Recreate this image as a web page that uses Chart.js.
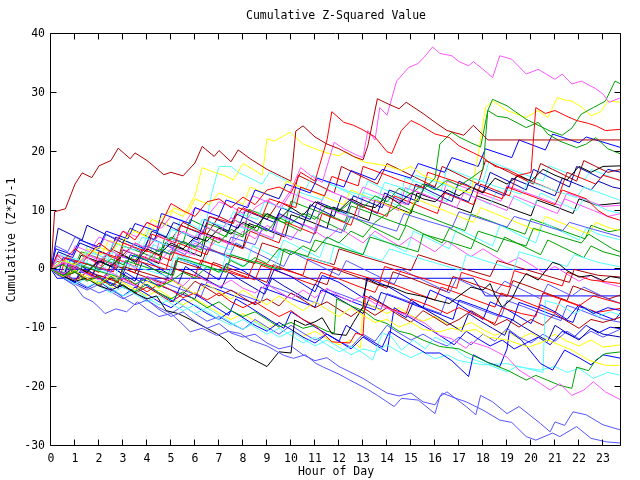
<!DOCTYPE html>
<html>
<head>
<meta charset="utf-8">
<script src="https://cdn.jsdelivr.net/npm/chart.js@4.4.1/dist/chart.umd.min.js"></script>
<style>
  html, body { margin: 0; padding: 0; background: #fff; }
</style>
</head>
<body>
<canvas id="zChart" width="640" height="480"></canvas>
<script>
// hour ticks and value ticks
const hourTicks = [0,1,2,3,4,5,6,7,8,9,10,11,12,13,14,15,16,17,18,19,20,21,22,23];
const valueTicks = [-30,-20,-10,0,10,20,30,40];
const chartTitle = 'Cumulative Z-Squared Value';

// each walk: hour, value, hour, value ...
const walk01 = [0,0, 0.15,9.8, 0.6,10.3, 1.0,14.5, 1.3,16.4, 1.7,15.6, 2.0,17.6, 2.5,18.5, 2.8,20.6, 3.3,18.8, 3.5,19.8, 4.0,18.5, 4.7,16.1, 5.0,16.5, 5.5,15.9, 6.0,18.1, 6.3,20.9, 6.8,19.2, 7.0,20.2, 7.5,18.3, 7.8,20.3, 8.3,18.8, 9.0,17.0, 9.6,15.8, 10.0,15.0, 10.2,23.5, 10.5,24.4, 11.0,22.5, 11.5,21.3, 12.0,20.5, 12.6,19.2, 13.0,18.6, 13.2,21, 13.6,29.0, 14.0,28.2, 14.5,27.3, 14.8,28.4, 15.5,26.5, 16.0,25.0, 16.5,23.6, 17.2,22.8, 17.6,24.5, 18.2,22.0, 23.75,22.0];
const walk02 = [0,0, 0.25,2.5, 0.5,1.5, 1.0,3.5, 1.5,2.0, 2.0,4.5, 2.5,3.0, 3.0,6.5, 3.5,5.0, 4.0,8.0, 4.5,7.0, 5.0,11.2, 5.5,10.0, 6.0,9.0, 6.5,11.5, 7.0,12.0, 7.5,10.5, 8.0,12.3, 8.5,11.0, 9.0,13.5, 9.5,14.0, 10.0,13.0, 10.4,16.5, 11.0,15.0, 11.5,22.0, 11.7,26.8, 12.2,25.0, 12.6,24.5, 13.0,23.7, 13.5,22.5, 14.0,20.0, 14.2,19.7, 14.6,23.6, 15.0,25.3, 15.4,24.5, 16.0,23.0, 16.6,22.4, 17.0,21.0, 17.5,20.0, 18.0,19.0, 18.5,17.5, 19.0,17.0, 19.5,16.0, 20.0,16.5, 20.2,27.5, 20.6,26.5, 21.0,27.0, 21.5,26.0, 21.9,25.3, 22.4,24.8, 22.7,24.4, 23.1,23.6, 23.75,23.8];
const walk03 = [0,0, 0.5,1.2, 1.0,0.5, 1.5,2.5, 2.0,1.5, 2.5,3.2, 3.0,2.0, 3.5,4.5, 4.0,3.5, 4.5,5.8, 5.0,4.5, 5.5,6.5, 6.0,5.5, 6.5,7.2, 7.0,6.2, 7.5,8.8, 8.0,7.5, 8.5,10.5, 9.0,11.8, 9.5,10.5, 10.0,13.5, 10.4,17.3, 10.8,16.0, 11.3,14.8, 11.8,21.6, 12.2,20.5, 12.7,19.5, 13.0,19.0, 13.2,23.6, 13.5,22.0, 13.7,27.5, 14.0,26.2, 14.4,32.0, 14.9,34.3, 15.3,35.0, 15.6,36.3, 15.9,37.8, 16.2,36.7, 16.7,36.3, 17.0,35.3, 17.4,34.6, 17.6,35.3, 18.0,34.0, 18.4,32.6, 18.7,36.3, 19.2,35.7, 19.8,33.2, 20.3,34.0, 21.0,32.3, 21.3,33.2, 21.7,31.5, 22.1,32.0, 22.7,30.7, 23.0,29.8, 23.25,28.4, 23.75,29.2];
const walk04 = [0,0, 0.5,-1.0, 1,-0.5, 1.5,-2.0, 2,-1.2, 2.5,-2.8, 3,-1.0, 3.5,-2.5, 4,-1.5, 4.5,-3.0, 5,-2.0, 5.5,-0.5, 6,-1.5, 6.5,0.5, 7,-0.5, 7.5,1.5, 8,0.5, 8.5,2.0, 9,1.0, 9.5,3.5, 10,2.5, 10.5,4.0, 11,3.0, 11.5,5.5, 12,4.5, 12.5,6.5, 13,5.5, 13.5,8.0, 14,9.5, 14.5,11.0, 15,10.0, 15.5,13.5, 16,15.5, 16.2,21.3, 16.7,23.3, 17.0,22.5, 17.5,21.5, 17.9,20.8, 18.2,27.0, 18.4,28.9, 19.0,27.8, 19.8,25.5, 20.3,24.5, 20.8,23.5, 21.3,22.8, 21.7,24.0, 22.1,26.4, 22.6,27.5, 23.1,28.6, 23.5,32.0, 23.75,31.5];
const walk05 = [0,0, 0.5,0.8, 1,-0.5, 1.5,1.0, 2,0.0, 2.5,1.8, 3,0.8, 3.5,2.5, 4,1.5, 4.5,3.5, 5,2.5, 5.5,4.8, 6,3.8, 6.5,5.5, 7,4.5, 7.5,6.8, 8,5.8, 8.5,7.5, 9,6.5, 9.5,8.8, 10,7.8, 10.5,9.5, 11,8.5, 11.5,10.8, 12,9.8, 12.5,11.5, 13,10.5, 13.5,12.5, 14,11.5, 14.5,13.8, 15,12.8, 15.5,14.5, 16,13.5, 16.5,15.2, 17,14.2, 17.5,15.5, 18.0,17.0, 18.2,27.0, 18.6,26.0, 19.0,25.8, 19.8,24.1, 20.3,25.0, 20.7,23.0, 21.2,21.8, 21.9,20.7, 22.3,21.3, 22.7,22.4, 23.2,20.5, 23.75,19.6];
const walk06 = [0,0, 0.5,1.5, 1,0.8, 1.5,2.5, 2,3.8, 2.5,3.0, 3,5.0, 3.5,6.5, 4,5.5, 4.5,8.5, 5,10.0, 5.5,9.0, 6,12.5, 6.3,17.3, 6.8,16.5, 7.2,16.0, 7.6,15.2, 8.0,18.0, 8.5,16.8, 8.8,16.0, 9.0,22.2, 9.3,21.8, 9.6,22.5, 9.96,23.3, 10.5,21.3, 11,20.5, 11.5,19.8, 12,19.3, 12.3,20.0, 12.8,18.7, 13.1,18.2, 14,17.6, 14.6,16.8, 15,17.5, 15.5,16.0, 16,15.2, 16.5,14.5, 17,13.5, 17.5,13.0, 17.8,19.5, 18.1,27.5, 18.4,28.6, 19.0,27.0, 19.8,25.8, 20.3,27.0, 20.7,25.8, 21.1,29.2, 21.4,28.8, 21.7,28.6, 22.1,27.6, 22.5,26.1, 22.9,26.8, 23.2,28.6, 23.75,28.4];
const walk07 = [0,0, 0.5,-1.2, 1,-0.2, 1.5,-1.5, 2,-2.5, 2.5,-1.0, 3,-2.2, 3.5,-3.5, 4,-2.0, 4.5,-3.2, 5,-1.8, 5.5,-3.0, 6,-4.2, 6.5,-2.5, 7,-3.8, 7.5,-5.0, 8,-3.5, 8.5,-4.8, 9,-6.0, 9.5,-4.5, 10,-5.8, 10.5,-7.0, 11,-5.5, 11.5,-6.8, 12,-8.0, 12.5,-6.5, 13,-7.8, 13.5,-9.0, 14,-8.5, 14.5,-9.8, 15,-9.0, 15.5,-10.2, 16.2,-10.6, 16.7,-10.0, 17.2,-10.5, 17.7,-10.2, 18.2,-11.5, 19,-12.0, 19.9,-13.2, 20.7,-12.0, 21.7,-13.7, 22.4,-15.4, 23.1,-16.3, 23.75,-16.3];
const walk08 = [0,0, 0.5,-0.8, 1,0.5, 1.5,-0.8, 2,-1.8, 2.5,-0.5, 3,-1.6, 3.5,-2.8, 4,-1.2, 4.5,-2.5, 5,-1.5, 5.5,-2.8, 6,-0.8, 6.5,-2.0, 7,-3.0, 7.5,-1.8, 8,-3.2, 8.5,-4.0, 9,-2.5, 9.5,-3.8, 10,-5.0, 10.5,-3.5, 11,-4.8, 11.5,-3.2, 12,-4.5, 12.5,-5.5, 13,-4.5, 13.5,-5.8, 14.25,-7.0, 15,-8.0, 15.6,-9.2, 16.2,-11.2, 16.7,-11.8, 17.3,-13.4, 17.5,-12.3, 18.2,-13.2, 19,-14.9, 19.5,-17.1, 20.4,-19.4, 20.8,-20.5, 21.2,-19.4, 21.7,-21.4, 22.2,-20.5, 22.6,-19.1, 23.1,-20.8, 23.75,-22.2];
const walk09 = [0,0, 0.5,-1.5, 1.0,-2.8, 1.35,-4.7, 1.75,-5.5, 2.04,-6.6, 2.25,-7.5, 2.7,-6.7, 3.15,-7.2, 3.6,-5.5, 4.0,-6.8, 4.5,-8.0, 5.0,-7.5, 5.4,-9.0, 5.8,-10.6, 6.3,-10.0, 6.9,-11.2, 7.4,-10.5, 7.9,-10.9, 8.3,-12.0, 9.0,-13.0, 9.7,-14.6, 10.1,-15.1, 10.6,-14.5, 11.05,-16.0, 11.35,-16.6, 12.0,-17.8, 12.45,-18.8, 13.2,-20.4, 13.6,-21.4, 14.3,-23.3, 14.6,-21.9, 15.3,-22.2, 16.0,-24.5, 16.2,-21.6, 16.5,-20.8, 17.3,-23.3, 17.7,-24.7, 17.9,-21.4, 18.4,-22.5, 19.0,-24.5, 19.5,-23.3, 20.4,-26.2, 20.8,-27.6, 21.0,-25.9, 21.4,-26.5, 21.75,-24.2, 22.3,-24.7, 23.0,-26.4, 23.75,-27.3];
const walk10 = [0,0, 0.5,-0.5, 1.0,-1.8, 1.5,-3.0, 2.0,-4.0, 2.5,-3.2, 3.0,-4.8, 3.5,-6.0, 4.0,-5.2, 4.5,-6.8, 5.0,-8.0, 5.5,-7.2, 6.0,-8.8, 6.5,-10.0, 7.0,-9.2, 7.5,-10.8, 8.0,-11.5, 8.5,-11.0, 9.0,-12.5, 9.5,-13.5, 10.0,-13.0, 10.5,-14.5, 11.0,-15.5, 11.5,-15.0, 12.0,-16.5, 12.5,-17.5, 13.0,-18.5, 13.5,-19.8, 14.0,-21.0, 14.5,-21.5, 15.0,-21.0, 15.5,-22.5, 16.0,-23.0, 16.3,-21.0, 16.8,-21.8, 17.3,-22.5, 18.0,-23.9, 18.7,-25.6, 19.2,-26.0, 19.8,-28.4, 20.2,-29.0, 20.9,-27.8, 21.2,-28.4, 21.9,-26.7, 22.5,-28.7, 23.15,-29.3, 23.75,-29.5];
const walk11 = [0,0, 0.5,-1.2, 1,-2.0, 1.5,-1.5, 2,-2.8, 2.5,-3.5, 3,-2.6, 3.5,-4.0, 4.0,-5.0, 4.4,-4.5, 4.8,-7.0, 5.3,-7.5, 5.8,-8.5, 6.4,-9.8, 6.9,-10.9, 7.3,-12.0, 7.7,-13.7, 8.3,-15.0, 9.0,-16.5, 9.5,-14.0, 10.0,-14.2, 10.15,-8.6, 10.6,-9.5, 11.0,-8.9, 11.3,-8.2, 11.7,-10.9, 12.3,-11.2, 12.6,-9.0, 13.0,-6.4, 13.15,-1.5, 13.6,-2.5, 14.2,-3.0, 14.8,-4.0, 15.4,-4.5, 16.0,-5.2, 16.6,-5.8, 17.0,-4.5, 17.5,-3.0, 18.0,-3.5, 18.3,-2.4, 18.5,-4.4, 18.8,-6.4, 19.2,-5.0, 19.5,-2.5, 19.8,-0.7, 20.3,-1.8, 20.9,1.2, 21.2,0.8, 21.5,-0.2, 22.0,-1.3, 22.5,-1.0, 23.0,-1.9, 23.3,-1.2, 23.75,-1.5];
const walk12 = [0,0, 0.5,-1.0, 1,0.5, 1.5,-0.5, 2,1.5, 2.5,0.5, 3,2.5, 3.5,1.2, 4,3.5, 4.5,2.5, 5,4.5, 5.5,3.5, 6,5.5, 6.5,4.8, 7,7.0, 7.5,6.0, 8,8.0, 8.5,7.0, 9,9.5, 9.5,8.5, 10,10.5, 10.5,9.2, 11,11.5, 11.5,10.5, 12,10.0, 12.5,12.0, 13,11.0, 13.5,10.5, 14,12.5, 14.5,11.2, 15,13.0, 15.5,12.0, 16,11.5, 16.5,13.5, 17,12.5, 17.5,14.0, 18,13.0, 18.5,15.5, 19,14.5, 19.5,16.0, 20,15.0, 20.5,17.0, 21,16.0, 21.5,15.2, 22,17.5, 22.5,16.5, 23,17.5, 23.75,17.6];
const walk13 = [0,0, 0.2,3.5, 0.9,2.5, 1.2,5.0, 2.0,3.8, 2.3,6.5, 3.2,5.2, 3.5,7.8, 4.4,6.5, 4.6,9.5, 5.5,8.2, 5.8,7.8, 6.0,10.5, 7.0,9.0, 7.3,11.8, 8.2,10.5, 8.5,13.5, 9.5,12.0, 9.8,14.5, 10.8,13.0, 11.1,15.5, 12.2,14.0, 12.5,16.8, 13.5,15.2, 13.8,17.0, 15.0,15.5, 15.3,18.0, 16.4,16.5, 16.7,19.0, 17.8,17.5, 18.1,20.5, 19.2,19.0, 19.5,22.0, 20.6,20.3, 20.9,23.0, 22.0,21.5, 22.3,22.5, 23.75,20.7];
const walk14 = [0,0, 0.8,-1.0, 1.0,1.5, 1.8,0.5, 2.0,3.0, 2.8,2.0, 3.0,4.5, 4.0,3.0, 4.2,6.0, 5.2,4.5, 5.4,7.5, 6.4,6.0, 6.6,9.0, 7.6,7.8, 7.8,10.5, 8.8,9.0, 9.1,12.0, 10.2,10.5, 10.4,14.0, 11.4,12.5, 11.7,15.8, 12.8,14.2, 13.0,17.5, 14.0,16.0, 14.5,15.2, 15.5,13.8, 15.7,16.5, 16.8,15.0, 17.8,13.5, 18.8,12.0, 19.0,14.0, 20.0,12.5, 21.0,11.0, 21.3,13.5, 22.3,12.0, 22.8,10.0, 23.2,9.0, 23.75,8.3];
const walk15 = [0,0, 0.5,1.5, 1.2,0.5, 1.5,3.0, 2.3,2.0, 2.6,4.5, 3.5,3.2, 3.8,5.5, 4.8,4.2, 5.0,6.8, 6.0,5.5, 6.3,8.5, 7.3,7.2, 7.6,9.8, 8.6,8.5, 8.9,11.5, 10.0,10.0, 10.3,13.2, 11.3,11.8, 11.6,14.5, 12.6,13.0, 13.6,11.8, 13.9,14.8, 14.9,13.5, 15.2,16.0, 16.3,14.5, 17.3,13.2, 17.6,15.5, 18.6,14.0, 19.6,12.8, 19.9,15.0, 20.9,13.5, 21.9,12.2, 22.2,14.0, 23.2,12.5, 23.75,11.7];
const walk16 = [0,0, 0.6,-1.0, 0.8,1.8, 1.6,0.8, 2.5,-0.5, 2.7,2.5, 3.6,1.3, 3.9,4.0, 5.0,2.5, 5.2,5.0, 6.2,3.8, 7.2,2.5, 7.5,5.5, 8.5,4.2, 8.8,7.0, 9.8,5.8, 10.8,4.5, 11.1,7.5, 12.1,6.2, 12.4,9.0, 13.4,7.8, 14.4,6.5, 14.7,9.5, 15.7,8.2, 16.7,7.0, 17.0,9.8, 18.0,8.5, 19.0,7.2, 19.3,9.0, 20.3,7.8, 21.3,6.5, 21.6,8.0, 22.6,6.8, 23.75,5.5];
const walk17 = [0,0, 0.7,-1.0, 0.9,1.0, 1.9,-0.2, 2.9,-1.4, 3.1,1.5, 4.1,0.2, 5.1,-1.0, 5.3,2.0, 6.3,0.8, 7.3,-0.5, 7.5,2.5, 8.5,1.2, 9.5,0.0, 9.7,3.5, 10.7,2.2, 11.0,5.0, 12.0,3.8, 13.0,2.5, 13.3,5.5, 14.3,4.2, 15.3,3.0, 15.5,6.0, 16.5,4.8, 17.5,3.5, 17.8,6.5, 18.8,5.2, 19.8,4.0, 20.1,7.0, 21.1,5.7, 22.1,4.5, 22.4,6.0, 23.4,3.5, 23.75,2.9];
const walk18 = [0,0, 0.5,-1.0, 0.7,1.5, 1.7,0.2, 2.7,-1.0, 2.9,1.2, 3.9,0.0, 4.9,-1.2, 5.1,2.0, 6.1,0.8, 7.1,-0.5, 7.3,2.8, 8.3,1.5, 9.3,0.2, 9.6,3.5, 10.6,2.2, 11.6,1.0, 11.8,4.0, 12.8,2.8, 13.8,1.5, 14.1,3.5, 15.1,2.2, 16.1,1.0, 17.1,-0.2, 17.3,2.5, 18.3,1.2, 19.3,0.0, 19.5,3.0, 20.5,1.8, 21.5,0.5, 21.8,2.5, 22.8,1.2, 23.75,0.4];
const walk19 = [0,0, 0.5,-1.2, 1.0,-0.5, 1.5,-1.8, 2.0,-1.0, 2.8,-2.2, 3.0,0.5, 4.0,-0.7, 5.0,-2.0, 5.2,1.5, 6.2,0.2, 6.5,3.5, 7.5,2.2, 8.5,1.0, 8.8,4.5, 9.8,3.2, 10.8,2.0, 11.8,0.8, 12.0,3.5, 13.0,2.2, 14.0,1.0, 15.0,-0.2, 15.3,2.5, 16.3,1.2, 17.3,0.0, 18.3,-1.2, 18.6,1.5, 19.6,0.2, 20.6,-1.0, 21.6,-2.2, 21.8,0.0, 22.8,-1.0, 23.75,-1.3];
const walk20 = [0,0, 0.4,-1.0, 0.6,2.0, 1.6,0.8, 2.6,-0.4, 2.8,2.5, 3.8,1.2, 4.8,0.0, 5.0,3.0, 6.0,1.8, 7.0,0.5, 7.2,-0.2, 8.2,-1.5, 8.5,1.5, 9.5,0.2, 10.5,-1.0, 10.7,1.8, 11.7,0.5, 12.7,-0.8, 13.7,-2.0, 13.9,0.5, 14.9,-0.8, 15.9,-2.0, 16.9,-3.2, 17.1,-0.5, 18.1,-1.8, 19.1,-3.0, 19.3,-0.2, 20.3,-1.5, 21.3,-2.8, 21.5,-0.5, 22.5,-1.8, 23.75,-2.4];
const walk21 = [0,0, 0.5,-0.8, 1.0,-1.8, 1.5,-0.5, 2.0,-1.5, 2.5,-2.8, 3.0,-1.5, 3.5,-2.5, 4.0,-3.8, 4.5,-2.5, 5.0,-3.5, 5.5,-4.8, 6.0,-4.0, 6.5,-5.2, 7.0,-4.0, 7.5,-5.5, 8.0,-6.5, 8.5,-5.5, 9.0,-6.8, 9.5,-8.0, 10.0,-7.0, 10.5,-8.5, 11.0,-9.5, 11.7,-12.3, 12.45,-12.5, 12.7,-10.8, 13.0,-11.2, 13.1,-4.5, 13.6,-5.5, 14.2,-6.8, 14.8,-7.5, 15.0,-5.0, 15.8,-6.2, 16.5,-7.5, 17.0,-6.5, 17.8,-8.0, 18.5,-9.2, 18.8,-6.5, 19.6,-7.5, 20.2,-8.0, 20.5,-4.0, 21.2,-5.0, 22.0,-6.2, 22.6,-4.5, 23.2,-5.2, 23.75,-5.8];
const walk22 = [0,0, 0.5,-1.0, 1.0,-0.2, 1.5,-1.5, 2.0,-2.5, 2.5,-1.2, 3.0,-2.8, 3.5,-3.8, 4.0,-2.5, 4.5,-4.0, 5.0,-5.0, 5.5,-3.8, 6.0,-5.2, 6.5,-6.5, 7.0,-5.5, 7.5,-7.0, 8.0,-8.0, 8.5,-7.2, 9.0,-8.5, 9.5,-9.8, 10.0,-9.0, 10.5,-10.0, 11.0,-9.5, 11.5,-10.5, 11.8,-10.8, 11.9,-5.0, 12.5,-6.2, 13.0,-7.0, 13.5,-8.5, 14.0,-9.2, 14.5,-10.5, 15.0,-11.0, 15.5,-12.0, 16.2,-13.1, 17.0,-13.5, 18.3,-16.0, 19.0,-17.1, 19.8,-18.8, 20.2,-18.0, 21.2,-19.7, 21.7,-20.2, 21.9,-16.6, 22.4,-17.2, 22.7,-15.4, 23.1,-14.3, 23.75,-14.0];
const walk23 = [0,0, 0.3,-1.0, 0.5,2.0, 1.2,1.0, 1.5,-0.2, 2.0,1.5, 2.5,0.5, 3.0,-0.8, 3.3,2.5, 4.0,1.5, 4.5,0.2, 5.0,-1.0, 5.3,1.8, 6.0,0.8, 6.5,-0.5, 7.0,-1.8, 7.3,1.0, 8.0,-0.2, 8.5,-1.5, 9.0,-2.8, 9.3,0.0, 10.0,-1.2, 10.5,-2.5, 11.0,-3.8, 11.3,-1.0, 12.0,-2.2, 12.5,-3.5, 13.0,-4.8, 13.2,-1.5, 14.0,-2.8, 14.5,-4.0, 15.0,-5.2, 15.5,-6.5, 15.8,-3.5, 16.5,-4.8, 17.0,-6.0, 17.5,-7.2, 18.0,-8.5, 18.3,-5.5, 19.0,-6.8, 19.5,-8.0, 20.0,-9.2, 20.4,-6.0, 21.0,-7.2, 21.5,-8.5, 22.0,-6.0, 22.6,-7.5, 23.2,-6.5, 23.75,-7.0];
const walk24 = [0,0, 0.5,-1.5, 0.7,1.0, 1.2,0.0, 1.7,-1.2, 2.0,1.5, 2.5,0.5, 3.0,-0.8, 3.5,-2.0, 3.8,1.2, 4.3,0.0, 4.8,-1.2, 5.3,-2.5, 5.6,0.5, 6.1,-0.8, 6.6,-2.0, 7.1,-3.2, 7.4,-0.5, 7.9,-1.8, 8.4,-3.0, 8.9,-4.2, 9.2,-1.5, 9.7,-2.8, 10.2,-4.0, 10.7,-5.2, 11.0,-2.5, 11.5,-3.8, 12.0,-5.0, 12.5,-6.2, 13.0,-7.5, 13.3,-4.5, 13.8,-5.8, 14.3,-7.0, 14.8,-8.2, 15.1,-5.5, 15.6,-6.8, 16.1,-8.0, 16.6,-9.2, 17.1,-10.5, 17.4,-7.5, 17.9,-8.8, 18.4,-10.0, 18.9,-11.2, 19.2,-8.5, 19.7,-9.8, 20.2,-11.0, 20.7,-12.2, 21.0,-9.5, 21.5,-10.8, 22.0,-12.0, 22.5,-10.0, 23.0,-11.0, 23.75,-11.5];
const walk25 = [0,0, 0.5,-1.0, 1.0,-2.2, 1.3,0.5, 1.8,-0.8, 2.3,-2.0, 2.8,-3.2, 3.1,-0.5, 3.6,-1.8, 4.1,-3.0, 4.6,-4.2, 5.1,-5.5, 5.4,-2.8, 5.9,-4.0, 6.4,-5.2, 6.9,-6.5, 7.4,-7.8, 7.7,-5.0, 8.2,-6.2, 8.7,-7.5, 9.2,-8.8, 9.7,-10.0, 10.0,-7.2, 10.5,-8.5, 11.0,-9.8, 11.5,-11.0, 12.0,-12.2, 12.3,-9.5, 12.8,-10.8, 13.3,-12.0, 13.8,-13.2, 14.1,-10.5, 14.6,-11.8, 15.1,-13.0, 15.6,-14.2, 16.2,-14.2, 16.7,-15.5, 17.4,-18.2, 17.6,-14.5, 18.2,-15.8, 18.7,-16.5, 19.0,-13.5, 19.1,-10.5, 19.6,-12.0, 20.0,-14.0, 20.4,-16.0, 20.9,-17.1, 21.4,-13.7, 22.0,-15.0, 22.5,-16.2, 23.0,-14.5, 23.75,-15.1];
const walk26 = [0,0, 0.5,-1.2, 1.0,-2.5, 1.5,-1.5, 2.0,-2.8, 2.5,-4.0, 3.0,-3.0, 3.5,-4.2, 4.0,-5.5, 4.5,-4.5, 5.0,-5.8, 5.5,-7.0, 6.0,-6.0, 6.5,-7.2, 7.0,-8.5, 7.5,-9.5, 8.0,-8.5, 8.5,-9.8, 9.0,-11.0, 9.5,-10.0, 10.0,-11.2, 10.5,-12.5, 11.0,-11.5, 11.5,-12.8, 12.0,-14.0, 12.5,-13.0, 13.0,-14.2, 13.4,-15.4, 13.8,-10.8, 14.2,-11.5, 14.6,-13.7, 15.1,-12.0, 15.6,-13.5, 16.0,-11.5, 16.5,-12.5, 17.3,-14.9, 18.1,-16.0, 19.0,-17.4, 19.4,-16.5, 20.4,-17.1, 21.0,-16.5, 21.5,-17.5, 22.0,-16.8, 22.6,-18.5, 23.2,-17.5, 23.75,-18.0];
const walk27 = [0,0, 0.5,-0.5, 1.0,-1.8, 1.5,-3.0, 2.0,-2.0, 2.5,-3.2, 3.0,-4.5, 3.5,-3.5, 4.0,-4.8, 4.5,-6.0, 5.0,-5.0, 5.5,-6.2, 6.0,-7.5, 6.5,-6.5, 7.0,-7.8, 7.5,-9.0, 8.0,-10.2, 8.5,-9.0, 9.0,-10.2, 9.5,-11.5, 10.0,-10.5, 10.5,-11.8, 11.0,-13.0, 11.5,-12.0, 12.0,-13.2, 12.5,-14.5, 13.0,-13.5, 13.5,-14.0, 14.0,-12.8, 14.5,-14.0, 15.0,-15.0, 15.5,-14.0, 16.0,-15.2, 16.5,-14.5, 17.0,-15.5, 18.0,-16.2, 19.0,-16.0, 19.8,-16.8, 20.5,-17.5, 20.6,-5.3, 21.2,-6.0, 21.8,-7.5, 22.3,-6.5, 22.8,-8.0, 23.3,-7.2, 23.75,-7.8];
const walk28 = [0,0, 0.5,1.0, 1.0,0.0, 1.5,2.0, 2.0,0.8, 2.5,-0.5, 3.0,1.5, 3.5,0.2, 4.0,2.5, 4.5,1.2, 5.0,3.5, 5.5,2.2, 6.0,4.5, 6.5,3.2, 7.0,5.5, 7.5,4.2, 8.0,6.5, 8.5,5.2, 9.0,7.5, 9.5,6.2, 10.0,5.0, 10.5,7.8, 11.0,6.5, 11.5,5.2, 12.0,7.0, 12.5,5.8, 13.0,4.5, 13.5,6.5, 14.0,5.2, 14.5,4.0, 15.0,5.5, 15.5,4.2, 16.0,3.0, 16.5,4.8, 17.0,3.5, 17.5,2.2, 18.0,3.5, 18.5,2.2, 19.0,1.0, 19.5,2.0, 20.0,0.8, 20.5,-0.5, 21.0,0.5, 21.5,-0.8, 22.0,-2.0, 22.5,-1.0, 23.0,-2.2, 23.75,-3.0];
const walk29 = [0,0, 0.3,2.5, 0.8,1.5, 1.0,4.0, 1.6,3.0, 2.0,5.5, 2.6,4.5, 3.0,6.5, 3.6,5.5, 4.0,8.0, 4.6,7.0, 5.0,9.0, 5.6,8.0, 6.0,10.5, 6.6,9.5, 7.0,11.5, 7.6,10.5, 8.0,9.5, 8.4,12.5, 9.0,11.5, 9.6,10.5, 10.0,13.0, 10.6,12.0, 11.2,11.0, 11.5,13.5, 12.1,12.5, 12.7,11.5, 13.0,14.0, 13.6,13.0, 14.2,12.0, 14.8,11.0, 15.1,13.5, 15.7,12.5, 16.3,11.5, 16.9,10.5, 17.2,13.0, 17.8,12.0, 18.4,11.0, 19.0,10.0, 19.3,12.5, 19.9,11.5, 20.5,10.5, 21.1,9.5, 21.4,12.0, 22.0,11.0, 22.6,10.0, 23.2,9.0, 23.75,9.5];
const walk30 = [0,0, 0.5,-0.8, 0.7,2.0, 1.3,1.0, 1.5,3.5, 2.1,2.5, 2.4,5.0, 3.0,4.0, 3.3,6.8, 3.9,5.8, 4.2,8.5, 4.8,7.5, 5.1,10.5, 5.7,9.5, 6.0,12.0, 6.6,11.0, 7.0,13.0, 7.6,12.0, 8.0,11.0, 8.3,14.0, 8.9,13.0, 9.5,12.0, 9.8,15.0, 10.4,14.0, 11.0,13.0, 11.6,12.0, 12.2,11.0, 12.5,13.5, 13.1,12.5, 13.7,11.5, 14.3,10.5, 14.9,9.5, 15.2,12.0, 15.8,11.0, 16.4,10.0, 17.0,9.0, 17.6,8.0, 17.9,10.5, 18.5,9.5, 19.1,8.5, 19.7,7.5, 20.3,6.5, 20.6,9.0, 21.2,8.0, 21.8,7.0, 22.4,6.0, 22.7,8.0, 23.3,7.0, 23.75,6.6];
const walk31 = [0,0, 0.3,3.0, 0.9,2.0, 1.2,4.5, 1.8,3.5, 2.4,2.5, 2.7,5.5, 3.3,4.5, 3.9,3.5, 4.2,6.5, 4.8,5.5, 5.1,8.0, 5.7,7.0, 6.3,6.0, 6.6,9.0, 7.2,8.0, 7.8,7.0, 8.1,10.0, 8.7,9.0, 9.3,8.0, 9.6,10.5, 10.2,9.5, 10.8,8.5, 11.1,11.5, 11.7,10.5, 12.3,9.5, 12.6,12.5, 13.2,11.5, 13.8,10.5, 14.1,13.5, 14.7,12.5, 15.3,11.5, 15.6,14.5, 16.2,13.5, 16.8,12.5, 17.4,11.5, 17.7,14.5, 18.3,13.5, 18.9,12.5, 19.2,15.5, 19.8,14.5, 20.4,13.5, 21.0,12.5, 21.3,15.5, 21.9,14.5, 22.5,13.5, 22.8,15.0, 23.4,14.0, 23.75,13.7];
const walk32 = [0,0, 0.5,-1.0, 0.8,1.5, 1.4,0.5, 2.0,-0.5, 2.3,2.5, 2.9,1.5, 3.5,0.5, 3.8,3.5, 4.4,2.5, 5.0,1.5, 5.3,4.5, 5.9,3.5, 6.5,2.5, 6.8,5.5, 7.4,4.5, 8.0,3.5, 8.3,6.5, 8.9,5.5, 9.5,4.5, 9.8,8.0, 10.4,7.0, 11.0,6.0, 11.3,9.5, 11.9,8.5, 12.5,7.5, 12.8,11.0, 13.4,10.0, 14.0,9.0, 14.3,12.5, 14.9,11.5, 15.5,10.5, 16.1,9.5, 16.4,13.0, 17.0,12.0, 17.6,11.0, 17.9,14.5, 18.5,13.5, 19.1,12.5, 19.4,16.0, 20.0,15.0, 20.6,14.0, 21.2,13.0, 21.5,16.5, 22.1,15.5, 22.7,14.5, 23.0,16.0, 23.75,15.1];
const walk33 = [0,0, 0.5,-1.2, 1.0,-0.2, 1.5,-1.5, 2.0,-2.8, 2.5,-1.5, 3.0,-2.8, 3.5,-4.0, 4.0,-3.0, 4.5,-4.2, 5.0,-5.5, 5.5,-4.2, 6.0,-2.0, 6.5,-3.2, 7.0,-4.5, 7.5,-3.5, 8.0,-4.8, 8.5,-6.0, 9.0,-5.0, 9.5,-6.2, 10.0,-4.0, 10.5,-5.2, 11.0,-6.5, 11.5,-5.5, 12.0,-6.8, 12.5,-8.0, 13.0,-6.5, 13.5,-7.8, 14.0,-6.5, 14.5,-7.8, 15.0,-9.0, 15.5,-7.0, 16.0,-8.2, 16.5,-9.5, 17.0,-8.5, 17.5,-7.0, 18.0,-8.2, 18.5,-9.5, 19.0,-8.5, 19.5,-9.8, 20.0,-8.5, 20.5,-9.5, 21.0,-7.5, 21.5,-8.8, 22.0,-10.0, 22.5,-8.5, 23.0,-9.0, 23.75,-8.1];
const walk34 = [0,0, 0.5,-1.0, 1.0,-2.2, 1.5,-3.2, 2.0,-2.0, 2.5,-3.5, 3.0,-4.5, 3.5,-3.0, 4.0,-4.2, 4.5,-5.5, 5.0,-6.5, 5.5,-5.0, 6.0,-6.2, 6.5,-7.5, 7.0,-8.5, 7.5,-7.0, 8.0,-8.2, 8.5,-9.5, 9.0,-10.5, 9.5,-9.0, 10.0,-10.2, 10.5,-11.5, 11.0,-12.5, 11.5,-11.0, 12.0,-12.2, 12.5,-13.5, 13.0,-11.5, 13.5,-12.8, 14.0,-14.0, 14.3,-6.5, 14.8,-7.8, 15.3,-9.0, 15.8,-10.2, 16.3,-11.5, 16.8,-12.8, 17.3,-10.5, 17.8,-11.8, 18.3,-13.0, 18.8,-12.0, 19.3,-13.5, 19.8,-12.5, 20.3,-11.5, 20.8,-12.8, 21.3,-10.5, 21.8,-11.5, 22.3,-9.5, 22.8,-10.8, 23.3,-9.8, 23.75,-10.1];
const walk35 = [0,0, 0.2,4.0, 0.7,3.0, 1.0,5.5, 1.5,4.5, 2.0,3.5, 2.3,6.0, 2.8,5.0, 3.3,4.0, 3.8,3.0, 4.1,5.5, 4.6,4.5, 5.1,3.5, 5.6,2.5, 5.9,5.0, 6.4,4.0, 6.9,3.0, 7.4,2.0, 7.7,4.5, 8.2,3.5, 8.7,2.5, 9.2,1.5, 9.7,0.5, 10.0,3.0, 10.5,2.0, 11.0,1.0, 11.5,0.0, 12.0,-1.0, 12.3,1.5, 12.8,0.5, 13.3,-0.5, 13.8,-1.5, 14.3,-2.5, 14.6,0.0, 15.1,-1.0, 15.6,-2.0, 16.1,-3.0, 16.6,-4.0, 16.9,-1.5, 17.4,-2.5, 17.9,-3.5, 18.4,-4.5, 18.9,-2.0, 19.4,-3.0, 19.9,-4.0, 20.4,-5.0, 20.7,-2.5, 21.2,-3.5, 21.7,-4.5, 22.2,-3.0, 22.7,-4.0, 23.2,-5.0, 23.75,-5.8];
const walk36 = [0,0, 0.5,-1.5, 1.0,-2.5, 1.5,-3.5, 2.0,-2.5, 2.5,-3.8, 3.0,-5.0, 3.5,-4.0, 4.0,-5.2, 4.5,-6.5, 5.0,-7.5, 5.5,-6.2, 6.0,-7.5, 6.5,-8.8, 7.0,-8.0, 7.5,-9.2, 8.0,-10.2, 8.5,-8.5, 9.0,-9.8, 9.5,-11.0, 10.0,-9.5, 10.5,-10.8, 11.0,-12.0, 11.5,-11.0, 12.0,-12.2, 12.5,-13.2, 13.0,-11.0, 13.5,-12.2, 14.0,-9.5, 14.5,-10.8, 15.0,-12.0, 15.5,-11.0, 16.0,-12.2, 16.5,-13.0, 17.0,-11.5, 17.5,-12.8, 18.0,-11.0, 18.5,-12.2, 19.0,-10.0, 19.5,-11.5, 20.0,-12.5, 20.5,-11.0, 21.0,-12.2, 21.5,-10.5, 22.0,-11.8, 22.5,-10.5, 23.0,-11.5, 23.75,-10.1];
const walk37 = [0,0, 0.3,7.0, 0.8,6.0, 1.3,5.0, 1.5,7.5, 2.0,6.5, 2.5,5.5, 3.0,4.5, 3.3,7.0, 3.8,6.0, 4.3,5.0, 4.6,8.0, 5.1,7.0, 5.6,6.0, 6.1,5.0, 6.4,8.5, 6.9,7.5, 7.4,6.5, 7.7,9.5, 8.2,8.5, 8.7,7.5, 9.2,6.5, 9.5,9.5, 10.0,8.5, 10.5,7.5, 10.8,11.0, 11.3,10.0, 11.8,9.0, 12.1,12.5, 12.6,11.5, 13.1,10.5, 13.6,9.5, 13.9,13.0, 14.4,12.0, 14.9,11.0, 15.2,14.5, 15.7,13.5, 16.2,12.5, 16.7,11.5, 17.0,15.0, 17.5,14.0, 18.0,13.0, 18.3,16.5, 18.8,15.5, 19.3,14.5, 19.8,13.5, 20.1,17.0, 20.6,16.0, 21.1,15.0, 21.6,14.0, 21.9,17.5, 22.4,16.5, 22.9,15.5, 23.2,17.0, 23.75,16.5];
const walk38 = [0,0, 0.5,-1.0, 1.0,0.5, 1.5,-0.5, 2.0,1.5, 2.5,0.5, 3.0,2.5, 3.5,1.5, 4.0,4.0, 4.5,3.0, 5.0,5.5, 5.5,4.5, 5.8,8.5, 6.3,7.5, 6.8,6.5, 7.3,5.5, 7.6,8.5, 8.1,7.5, 8.6,6.5, 8.9,9.5, 9.4,8.5, 9.9,7.5, 10.4,6.5, 10.7,9.5, 11.2,8.5, 11.7,7.5, 12.2,6.5, 12.5,9.0, 13.0,8.0, 13.5,7.0, 14.0,6.0, 14.5,5.0, 14.8,7.5, 15.3,6.5, 15.8,5.5, 16.3,4.5, 16.6,7.0, 17.1,6.0, 17.6,5.0, 18.1,4.0, 18.6,3.0, 18.9,5.5, 19.4,4.5, 19.9,3.5, 20.4,2.5, 20.7,5.0, 21.2,4.0, 21.7,3.0, 22.2,2.0, 22.5,4.0, 23.0,3.0, 23.75,2.2];
const walk39 = [0,0, 0.4,2.5, 0.9,1.5, 1.4,0.5, 1.7,3.0, 2.2,2.0, 2.7,1.0, 3.2,0.0, 3.5,2.5, 4.0,1.5, 4.5,0.5, 5.0,-0.5, 5.3,2.5, 5.8,1.5, 6.3,0.5, 6.6,3.5, 7.1,2.5, 7.6,1.5, 8.1,0.5, 8.4,4.0, 8.9,3.0, 9.4,2.0, 9.7,5.0, 10.2,4.0, 10.7,3.0, 11.2,2.0, 11.5,5.5, 12.0,4.5, 12.5,3.5, 13.0,2.5, 13.3,6.0, 13.8,5.0, 14.3,4.0, 14.8,3.0, 15.1,6.5, 15.6,5.5, 16.1,4.5, 16.6,3.5, 16.9,7.0, 17.4,6.0, 17.9,5.0, 18.4,4.0, 18.7,7.5, 19.2,6.5, 19.7,5.5, 20.2,4.5, 20.5,8.0, 21.0,7.0, 21.5,6.0, 22.0,5.0, 22.3,7.0, 22.8,6.0, 23.75,5.0];
const walk40 = [0,0, 0.5,-1.0, 1.0,-2.0, 1.5,-1.0, 2.0,-2.2, 2.5,-3.2, 3.0,-2.2, 3.5,-3.4, 4.0,-4.5, 4.5,-3.5, 5.0,-4.8, 5.5,-6.0, 6.0,-5.0, 6.5,-6.2, 7.0,-7.4, 7.5,-8.5, 8.0,-7.5, 8.5,-8.8, 9.0,-10.0, 9.5,-9.0, 10.0,-10.2, 10.5,-11.4, 11.0,-10.5, 11.5,-11.8, 12.0,-12.8, 12.5,-12.0, 12.9,-13.4, 13.0,-5.3, 13.5,-6.5, 14.0,-7.5, 14.5,-6.5, 15.0,-7.8, 15.5,-8.8, 16.0,-8.0, 16.5,-9.2, 17.0,-10.0, 17.5,-9.0, 18.0,-10.2, 18.5,-11.2, 19.0,-10.5, 19.5,-11.8, 20.0,-10.8, 20.5,-12.0, 21.0,-11.0, 21.5,-12.2, 22.0,-13.0, 22.5,-12.0, 23.0,-13.2, 23.75,-12.8];
const walk41 = [0,0, 0.3,3.0, 0.8,2.0, 1.3,1.0, 1.5,4.0, 2.0,3.0, 2.5,2.0, 2.8,5.5, 3.3,4.5, 3.8,3.5, 4.1,7.0, 4.6,6.0, 5.1,5.0, 5.4,8.5, 5.9,7.5, 6.4,6.5, 6.7,13.0, 7.0,17.5, 7.5,17.5, 7.8,16.5, 8.3,15.5, 8.8,14.5, 9.1,16.5, 9.6,15.5, 10.1,14.5, 10.6,13.5, 10.9,16.0, 11.4,15.0, 11.9,14.0, 12.4,13.0, 12.9,12.0, 13.2,15.0, 13.7,14.0, 14.2,13.0, 14.7,12.0, 15.0,14.5, 15.5,13.5, 16.0,12.5, 16.5,11.5, 16.8,14.0, 17.3,13.0, 17.8,12.0, 18.3,11.0, 18.6,13.5, 19.1,12.5, 19.6,11.5, 20.1,10.5, 20.4,13.0, 20.9,12.0, 21.4,11.0, 21.9,10.0, 22.2,12.0, 22.7,11.0, 23.2,10.0, 23.75,9.5];
const walk42 = [0,0, 0.5,1.0, 1.0,0.0, 1.5,2.0, 2.0,1.0, 2.5,3.5, 3.0,2.5, 3.5,4.5, 4.0,3.5, 4.5,6.0, 5.0,5.0, 5.5,8.0, 6.0,7.0, 6.5,6.0, 7.0,9.0, 7.5,8.0, 8.0,10.5, 8.5,9.5, 9.0,8.5, 9.5,11.5, 10.0,10.5, 10.3,16.0, 10.8,15.0, 11.3,14.0, 11.8,13.0, 12.1,17.5, 12.6,16.5, 13.1,15.5, 13.6,14.5, 14.0,18.0, 14.5,17.0, 15.0,16.0, 15.5,15.0, 16.0,14.0, 16.3,17.5, 16.8,16.5, 17.3,15.5, 17.8,14.5, 18.1,18.5, 18.6,17.5, 19.1,16.5, 19.6,15.5, 20.1,14.5, 20.4,18.0, 20.9,17.0, 21.4,16.0, 21.9,15.0, 22.2,18.5, 22.7,17.5, 23.2,16.5, 23.75,17.0];
const walk43 = [0,0, 0.25,1.8, 0.75,0.9, 1.25,0.1, 1.5,2.6, 2.25,1.4, 2.75,0.6, 3.0,3.4, 3.75,2.2, 4.25,1.3, 4.5,4.6, 5.25,3.5, 6.0,2.4, 6.25,6.1, 7.0,5.0, 7.5,4.2, 7.75,7.6, 8.5,6.5, 9.25,5.3, 9.5,9.2, 10.25,8.0, 11.0,6.9, 11.25,10.8, 12.0,9.6, 12.75,8.5, 13.0,12.3, 13.75,11.2, 14.5,10.0, 14.75,13.9, 15.5,12.8, 16.25,11.6, 16.5,15.0, 17.25,13.9, 18.0,12.7, 18.75,11.6, 19.0,14.2, 19.75,13.1, 20.5,12.0, 21.25,10.8, 21.5,13.0, 22.25,11.9, 23.0,10.7, 23.75,10.9];
const walk44 = [0,0, 0.5,-0.8, 0.75,2.2, 1.5,1.1, 2.25,0.0, 2.5,3.1, 3.25,2.0, 4.0,0.8, 4.25,4.2, 5.0,3.0, 5.75,1.9, 6.0,5.6, 6.75,4.4, 7.5,3.3, 7.75,7.4, 8.5,6.2, 9.25,5.1, 9.5,9.0, 10.25,7.9, 11.0,6.7, 11.25,10.9, 12.0,9.8, 12.75,8.6, 13.0,13.1, 13.75,12.0, 14.5,10.8, 14.75,15.6, 15.5,14.5, 16.25,13.3, 16.5,17.2, 17.25,16.0, 18.0,14.9, 18.25,18.4, 19.0,17.2, 19.75,16.1, 20.5,15.0, 20.75,17.6, 21.5,16.4, 22.25,15.3, 22.5,17.0, 23.25,15.8, 23.75,15.0];
const walk45 = [0,0, 0.5,-1.1, 0.75,0.8, 1.5,-0.3, 2.25,-1.4, 2.5,0.9, 3.25,-0.2, 4.0,-1.4, 4.75,-2.5, 5.0,0.4, 5.75,-0.7, 6.5,-1.9, 6.75,1.2, 7.5,0.1, 8.25,-1.0, 9.0,-2.2, 9.25,0.8, 10.0,-0.3, 10.75,-1.5, 11.5,-2.6, 11.75,0.2, 12.5,-0.9, 13.25,-2.0, 14.0,-3.2, 14.25,-0.4, 15.0,-1.5, 15.75,-2.7, 16.5,-3.8, 16.75,-1.2, 17.5,-2.3, 18.25,-3.4, 19.0,-4.6, 19.25,-1.9, 20.0,-3.0, 20.75,-4.2, 21.5,-5.3, 21.75,-2.8, 22.5,-3.9, 23.25,-5.0, 23.75,-4.3];
const walk46 = [0,0, 0.5,-1.2, 1.0,-2.3, 1.25,-0.4, 2.0,-1.5, 2.75,-2.7, 3.5,-3.8, 3.75,-1.6, 4.5,-2.7, 5.25,-3.9, 6.0,-5.0, 6.25,-2.4, 7.0,-3.5, 7.75,-4.7, 8.5,-5.8, 8.75,-3.0, 9.5,-4.1, 10.25,-5.3, 11.0,-6.4, 11.25,-3.5, 12.0,-4.6, 12.75,-5.8, 13.5,-6.9, 13.75,-3.9, 14.5,-5.0, 15.25,-6.2, 16.0,-7.3, 16.75,-8.5, 17.0,-5.2, 17.75,-6.3, 18.5,-7.5, 19.25,-8.6, 19.5,-5.6, 20.25,-6.7, 21.0,-7.9, 21.75,-9.0, 22.0,-6.3, 22.75,-7.4, 23.5,-8.6, 23.75,-7.2];
const walk47 = [0,0, 0.5,1.6, 1.0,0.7, 1.25,3.0, 2.0,1.9, 2.75,0.8, 3.0,4.0, 3.75,2.9, 4.5,1.7, 4.75,5.6, 5.5,4.5, 6.25,3.3, 6.5,7.8, 7.25,6.7, 8.0,5.5, 8.25,10.2, 9.0,9.0, 9.75,7.9, 10.0,11.6, 10.75,10.4, 11.5,9.3, 12.25,8.1, 12.5,10.8, 13.25,9.7, 14.0,8.5, 14.75,7.4, 15.0,10.0, 15.75,8.9, 16.5,7.7, 17.25,6.6, 17.5,9.4, 18.25,8.3, 19.0,7.1, 19.75,6.0, 20.0,8.6, 20.75,7.5, 21.5,6.3, 22.25,5.2, 22.5,7.5, 23.25,6.4, 23.75,6.8];
const walk48 = [0,0, 0.5,-1.3, 1.0,-0.4, 1.5,-1.6, 2.0,-2.7, 2.25,-0.9, 3.0,-2.0, 3.75,-3.2, 4.0,-1.2, 4.75,-2.3, 5.5,-3.5, 6.25,-4.6, 6.5,-2.1, 7.25,-3.2, 8.0,-4.4, 8.75,-5.5, 9.0,-2.6, 9.75,-3.7, 10.5,-4.9, 11.25,-6.0, 11.5,-3.4, 12.25,-4.5, 13.0,-5.7, 13.75,-6.8, 14.0,-4.1, 14.75,-5.2, 15.5,-6.4, 16.25,-7.5, 16.5,-4.7, 17.25,-5.8, 18.0,-7.0, 18.75,-8.1, 19.0,-5.3, 19.75,-6.4, 20.5,-7.6, 21.25,-8.7, 21.5,-6.1, 22.25,-7.2, 23.0,-8.4, 23.75,-9.0];
const walk49 = [0,0, 0.25,1.4, 1.0,0.3, 1.75,-0.9, 2.0,1.7, 2.75,0.6, 3.5,-0.6, 3.75,2.3, 4.5,1.2, 5.25,0.0, 6.0,-1.1, 6.25,1.6, 7.0,0.5, 7.75,-0.7, 8.5,-1.8, 8.75,0.7, 9.5,-0.4, 10.25,-1.6, 11.0,-2.7, 11.25,-0.5, 12.0,-1.6, 12.75,-2.8, 13.5,-3.9, 13.75,-1.8, 14.5,-2.9, 15.25,-4.1, 16.0,-5.2, 16.25,-3.0, 17.0,-4.1, 17.75,-5.3, 18.5,-6.4, 18.75,-4.0, 19.5,-5.1, 20.25,-6.3, 21.0,-7.4, 21.25,-5.0, 22.0,-6.1, 22.75,-7.3, 23.75,-6.6];
const walk50 = [0,0, 0.5,0.9, 1.0,0.0, 1.25,2.4, 2.0,1.3, 2.75,0.2, 3.0,3.3, 3.75,2.2, 4.5,1.0, 4.75,4.5, 5.5,3.4, 6.25,2.2, 6.5,6.0, 7.25,4.9, 8.0,3.7, 8.25,7.8, 9.0,6.7, 9.75,5.5, 10.0,9.3, 10.75,8.2, 11.5,7.0, 11.75,10.6, 12.5,9.5, 13.25,8.3, 13.5,11.8, 14.25,10.7, 15.0,9.5, 15.25,13.0, 16.0,11.9, 16.75,10.7, 17.5,9.6, 17.75,12.5, 18.5,11.4, 19.25,10.2, 20.0,9.1, 20.25,11.8, 21.0,10.7, 21.75,9.5, 22.0,12.0, 22.75,10.9, 23.75,11.3];
const flat01 = [0,0, 23.75,0];
const flat02 = [0,0, 0.25,-1.5, 17.6,-1.5, 18.1,-4.5, 23.75,-4.5];

const walks = [walk01, walk02, walk03, walk04, walk05, walk06, walk07, walk08, walk09, walk10,
  walk11, walk12, walk13, walk14, walk15, walk16, walk17, walk18, walk19, walk20,
  walk21, walk22, walk23, walk24, walk25, walk26, walk27, walk28, walk29, walk30,
  walk31, walk32, walk33, walk34, walk35, walk36, walk37, walk38, walk39, walk40,
  walk41, walk42, walk43, walk44, walk45, walk46, walk47, walk48, walk49, walk50,
  flat01, flat02];
const walkColors = ['#b00000', '#ff0000', '#ff55ff', '#00a000', '#00a000', '#ffff00', '#ffff00', '#ff55ff', '#5555ff', '#5555ff',
  '#000000', '#000000', '#0000ff', '#ff0000', '#55ffff', '#5555ff', '#00a000', '#55ffff', '#b00000', '#ff0000',
  '#ff0000', '#00a000', '#0000ff', '#0000b0', '#0000ff', '#55ffff', '#55ffff', '#ff55ff', '#ff55ff', '#ffff00',
  '#0000b0', '#ff0000', '#b00000', '#0000ff', '#5555ff', '#5555ff', '#0000b0', '#00a000', '#55ffff', '#ffff00',
  '#55ffff', '#b00000', '#ff55ff', '#55ffff', '#b00000', '#0000ff', '#00a000', '#5555ff', '#ff0000', '#000000',
  '#0000ff', '#0000ff'];

const monoFont = { family: "'DejaVu Sans Mono', 'Liberation Mono', monospace", size: 11.5, weight: 'normal' };

function toPoints(arr) {
  const pts = [];
  for (let i = 0; i < arr.length; i += 2) pts.push({ x: arr[i], y: arr[i + 1] });
  return pts;
}

// gnuplot style box with inward ticks, title centred on the plot box
const frame = {
  id: 'frame',
  afterDatasetsDraw(chart) {
    const { ctx, chartArea: a, scales: { x, y } } = chart;
    const L = Math.round(a.left) - 0.5, R = Math.round(a.right) - 0.5;
    const T = Math.round(a.top) - 0.5, B = Math.round(a.bottom) - 0.5;
    ctx.save();
    ctx.strokeStyle = '#000';
    ctx.lineWidth = 1;
    ctx.beginPath();
    ctx.rect(L, T, R - L, B - T);
    hourTicks.forEach(h => {
      const px = Math.round(x.getPixelForValue(h)) - 0.5;
      ctx.moveTo(px, T); ctx.lineTo(px, T + 6);
      ctx.moveTo(px, B); ctx.lineTo(px, B - 6);
    });
    valueTicks.forEach(v => {
      const py = Math.round(y.getPixelForValue(v)) - 0.5;
      ctx.moveTo(L, py); ctx.lineTo(L + 6, py);
      ctx.moveTo(R, py); ctx.lineTo(R - 6, py);
    });
    ctx.stroke();

    ctx.fillStyle = '#000';
    ctx.font = monoFont.size + 'px ' + monoFont.family;
    ctx.textAlign = 'center';
    ctx.textBaseline = 'middle';
    ctx.fillText(chartTitle, (a.left + a.right) / 2, 16);
    ctx.restore();
  }
};

new Chart(document.getElementById('zChart').getContext('2d'), {
  type: 'line',
  data: {
    datasets: walks.map((w, i) => ({
      data: toPoints(w),
      borderColor: walkColors[i],
      borderWidth: 1,
      pointRadius: 0,
      tension: 0,
      fill: false
    }))
  },
  options: {
    responsive: false,
    animation: false,
    events: [],
    layout: { padding: { left: 0, right: 19, top: 34, bottom: 0 } },
    plugins: {
      legend: { display: false },
      tooltip: { enabled: false },
      title: { display: false }
    },
    scales: {
      x: {
        type: 'linear',
        min: 0,
        max: 23.75,
        grid: { display: false, drawTicks: false },
        border: { display: false },
        afterBuildTicks: s => { s.ticks = hourTicks.map(h => ({ value: h })); },
        ticks: { color: '#000', font: monoFont, padding: 6, maxRotation: 0, autoSkip: false },
        title: { display: true, text: 'Hour of Day', color: '#000', font: monoFont, padding: { top: 0, bottom: 1 } },
        afterFit: s => { s.height = 34; }
      },
      y: {
        min: -30,
        max: 40,
        grid: { display: false, drawTicks: false },
        border: { display: false },
        afterBuildTicks: s => { s.ticks = valueTicks.map(v => ({ value: v })); },
        ticks: { color: '#000', font: monoFont, padding: 6 },
        title: { display: true, text: 'Cumulative (Z*Z)-1', color: '#000', font: monoFont, padding: { top: 5, bottom: 0 } },
        afterFit: s => { s.width = 51; }
      }
    }
  },
  plugins: [frame]
});
</script>
</body>
</html>
